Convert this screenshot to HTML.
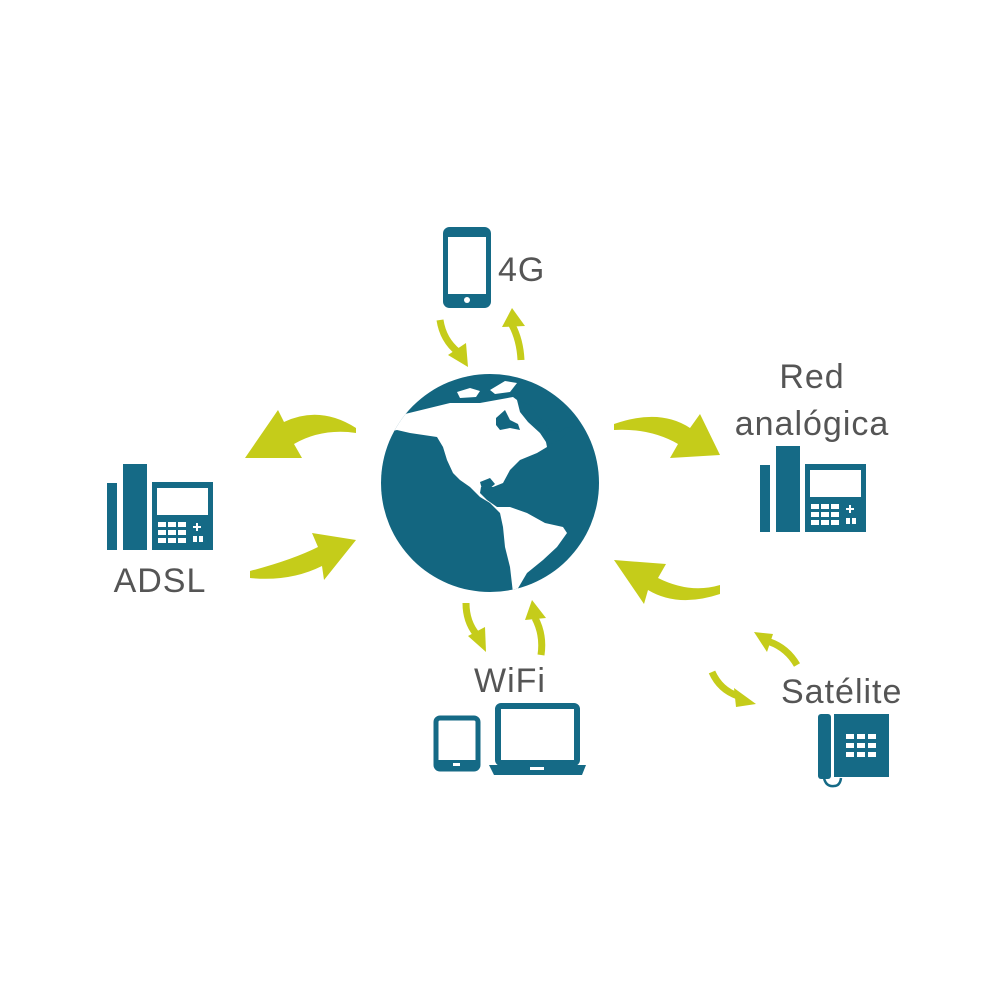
<!DOCTYPE html>
<html><head><meta charset="utf-8"><style>
html,body{margin:0;padding:0;background:#fff}
svg{display:block}
text{font-family:"Liberation Sans","DejaVu Sans",sans-serif;fill:#555;font-size:34px;letter-spacing:1px}
</style></head><body>
<svg width="1000" height="1000" viewBox="0 0 1000 1000">
<defs>
<clipPath id="gc"><circle cx="490" cy="483" r="109"/></clipPath>
<g id="desk">
 <rect x="0" y="19" width="10" height="67" fill="#156a86"/>
 <rect x="16" y="0" width="24" height="86" fill="#156a86"/>
 <rect x="45" y="18" width="61" height="68" fill="#156a86"/>
 <rect x="50" y="24" width="51" height="27" fill="#fff"/>
 <g fill="#fff">
  <rect x="51" y="58" width="8" height="5"/><rect x="61" y="58" width="8" height="5"/><rect x="71" y="58" width="8" height="5"/>
  <rect x="51" y="66" width="8" height="5"/><rect x="61" y="66" width="8" height="5"/><rect x="71" y="66" width="8" height="5"/>
  <rect x="51" y="74" width="8" height="5"/><rect x="61" y="74" width="8" height="5"/><rect x="71" y="74" width="8" height="5"/>
  <rect x="89" y="59" width="2" height="8"/><rect x="86" y="62" width="8" height="2"/>
  <rect x="86" y="72" width="4" height="6"/><rect x="92" y="72" width="4" height="6"/>
 </g>
</g>
</defs>

<circle cx="490" cy="483" r="109" fill="#136680"/>
<g clip-path="url(#gc)">
 <path fill="#fff" d="M370 414 L405 414 L450 403 L480 403 L513 397 L517 400 L525 412 L535 425 L545 437 L547 447 L537 453 L520 460 L510 470 L503 483 L493 487 L481 487 L480 493 L487 500 L497 507 L510 507 L527 513 L545 523 L563 527 L567 533 L557 547 L543 560 L527 573 L517 590 L515 610 L513 610 L513 593 L510 567 L505 547 L503 527 L500 513 L490 503 L480 497 L470 487 L460 480 L453 473 L447 460 L443 447 L437 437 L410 433 L397 430 L370 436 Z"/>
 <path fill="#136680" d="M517 400 L530 405 L540 418 L550 430 L560 432 L565 428 L575 426 L560 440 L548 445 L540 433 L528 422 L520 412 Z"/>
 <path fill="#136680" d="M496 418 L505 410 L510 420 L518 424 L520 430 L510 428 L500 430 L496 425 Z"/>
 <path fill="#136680" d="M480 482 L490 478 L495 484 L488 490 L482 489 Z"/>
 <path fill="#fff" d="M457 392 L470 388 L480 391 L476 397 L460 398 Z"/>
 <path fill="#fff" d="M490 390 L505 381 L517 383 L510 392 L495 394 Z"/>
</g>

<g fill="#c5cc1a">
 <path d="M356 428 Q320 405 284 422 L278 410 L245 458 L302 458 L294 444 Q322 428 356 433 Z"/>
 <path d="M250 571 Q292 560 318 547 L312 533 L356 540 L324 580 L322 566 Q290 582 250 578 Z"/>
 <path d="M614 424 Q660 408 690 428 L700 414 L720 455 L670 458 L678 444 Q650 428 614 430 Z"/>
 <path d="M720 594 Q678 608 648 590 L644 604 L614 560 L666 564 L658 578 Q690 594 720 585 Z"/>
</g>
<g stroke="#c5cc1a" stroke-width="7" fill="none" stroke-linecap="butt">
 <path d="M440 320 Q443 340 458 352"/>
 <path d="M521 360 Q520 340 512 325"/>
 <path d="M466 603 Q466 622 477 635"/>
 <path d="M541 655 Q544 635 535 618"/>
 <path d="M797 665 Q787 648 770 642"/>
 <path d="M712 672 Q720 690 738 696"/>
</g>
<g fill="#c5cc1a">
 <polygon points="448,355 468,367 466,343"/>
 <polygon points="502,327 512,308 525,326"/>
 <polygon points="468,636 486,652 485,627"/>
 <polygon points="525,620 532,600 546,618"/>
 <polygon points="773,634 754,632 767,652"/>
 <polygon points="734,688 756,704 736,707"/>
</g>

<rect x="445.5" y="229.5" width="43" height="76" rx="4" fill="none" stroke="#156a86" stroke-width="5"/>
<rect x="445" y="229" width="44" height="8" fill="#156a86"/>
<rect x="445" y="294" width="44" height="12" fill="#156a86"/>
<circle cx="467" cy="300" r="3" fill="#fff"/>
<text x="498" y="281">4G</text>

<text x="812" y="388" text-anchor="middle">Red</text>
<text x="812" y="435" text-anchor="middle">analógica</text>
<use href="#desk" x="760" y="446"/>

<use href="#desk" x="107" y="464"/>
<text x="160" y="592" text-anchor="middle">ADSL</text>

<text x="510" y="692" text-anchor="middle">WiFi</text>
<rect x="436" y="718" width="42" height="51" rx="4" fill="none" stroke="#156a86" stroke-width="5"/>
<rect x="436" y="760" width="42" height="10" fill="#156a86"/>
<rect x="453" y="763" width="7" height="3" fill="#fff"/>
<rect x="498" y="706" width="79" height="57" rx="3" fill="none" stroke="#156a86" stroke-width="6"/>
<path d="M489 765 L586 765 L582 775 L494 775 Z" fill="#156a86"/>
<rect x="530" y="767" width="14" height="3" fill="#fff"/>

<text x="781" y="703">Satélite</text>
<rect x="818" y="714" width="13" height="65" rx="3" fill="#156a86"/>
<rect x="834" y="714" width="55" height="63" fill="#156a86"/>
<g fill="#fff">
 <rect x="846" y="734" width="8" height="5"/><rect x="857" y="734" width="8" height="5"/><rect x="868" y="734" width="8" height="5"/>
 <rect x="846" y="743" width="8" height="5"/><rect x="857" y="743" width="8" height="5"/><rect x="868" y="743" width="8" height="5"/>
 <rect x="846" y="752" width="8" height="5"/><rect x="857" y="752" width="8" height="5"/><rect x="868" y="752" width="8" height="5"/>
</g>
<path d="M824 778 Q826 787 834 786 Q840 786 841 778" fill="none" stroke="#156a86" stroke-width="2.5"/>
</svg>
</body></html>
